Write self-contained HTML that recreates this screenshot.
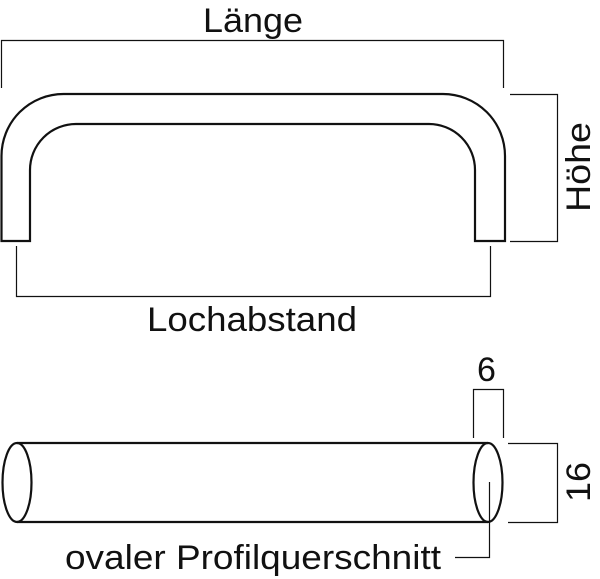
<!DOCTYPE html>
<html><head><meta charset="utf-8"><style>
html,body{margin:0;padding:0;background:#fff;}
svg{display:block;}
text{font-family:"Liberation Sans",sans-serif;fill:#111;}
</style></head><body>
<svg width="600" height="579" viewBox="0 0 600 579">
<g fill="none" stroke="#111">
<path d="M1.5 88 V40.5 H503.5 V88" stroke-width="1.2"/>
<path d="M1.5 241 V156 A62 62 0 0 1 63.5 94 H443 A62 62 0 0 1 505 156 V241 H475 V170 A46 46 0 0 0 429 124 H76 A46 46 0 0 0 30 170 V241 Z" stroke-width="2.2"/>
<path d="M510 94.5 H557.5 V241.5 H510" stroke-width="1.2"/>
<path d="M16.5 246 V296.5 H490.5 V246" stroke-width="1.2"/>
<path d="M17 443 H488 M17 522 H488" stroke-width="2.2"/>
<ellipse cx="17" cy="482.5" rx="14.5" ry="39.5" stroke-width="2.2"/>
<ellipse cx="488" cy="482.5" rx="14.5" ry="39.5" stroke-width="2.2"/>
<path d="M473.5 438 V389.5 H503.5 V438" stroke-width="1.2"/>
<path d="M508 443.5 H557.5 V522.5 H508" stroke-width="1.2"/>
<path d="M489.5 482 V557.5 H455" stroke-width="1.2"/>
</g>
<text x="203" y="32" font-size="34" textLength="100" lengthAdjust="spacingAndGlyphs">Länge</text>
<text x="147" y="331" font-size="34" textLength="210" lengthAdjust="spacingAndGlyphs">Lochabstand</text>
<text transform="translate(590,212) rotate(-90)" font-size="34" textLength="90" lengthAdjust="spacingAndGlyphs">Höhe</text>
<text x="477" y="381" font-size="34">6</text>
<text transform="translate(590,502) rotate(-90)" font-size="34" textLength="40" lengthAdjust="spacingAndGlyphs">16</text>
<text x="65" y="569" font-size="34" textLength="376" lengthAdjust="spacingAndGlyphs">ovaler Profilquerschnitt</text>
</svg>
</body></html>
